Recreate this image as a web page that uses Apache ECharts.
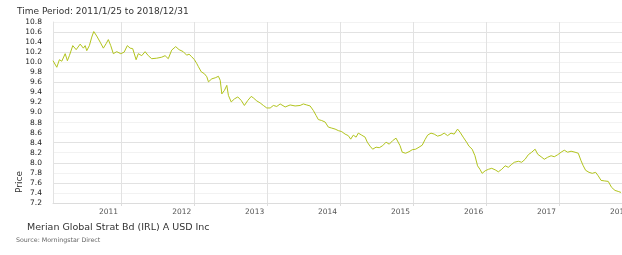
<!DOCTYPE html>
<html style="height: 100%">
	<head>
		<meta charset="utf-8">
	</head>
	<body style="height: 100%; margin: 0; background: #fff; overflow: hidden">
		<!-- the chart runs a little past the right edge of the window, as in the reference -->
		<div id="container" style="width: 632px; height: 255px"></div>
		<script type="text/javascript" src="https://cdn.jsdelivr.net/npm/echarts@6/dist/echarts.min.js"></script>
		<script type="text/javascript">
			// values, roughly every two to three weeks
			var dates = [
				'2011-01-25', '2011-02-13', '2011-02-26', '2011-03-10', '2011-03-27', '2011-04-07', '2011-04-17',
				'2011-05-04', '2011-05-21', '2011-06-10', '2011-06-26', '2011-07-05', '2011-07-13', '2011-07-26',
				'2011-08-07', '2011-08-17', '2011-09-01', '2011-09-18', '2011-10-04', '2011-10-18', '2011-10-29',
				'2011-11-10', '2011-11-23', '2011-12-10', '2011-12-30',
				'2012-01-16', '2012-02-01', '2012-02-15', '2012-02-28', '2012-03-16', '2012-03-27', '2012-04-13',
				'2012-04-30', '2012-05-16', '2012-06-02', '2012-06-27', '2012-07-22', '2012-08-08', '2012-08-24',
				'2012-09-10', '2012-09-30', '2012-10-17', '2012-11-07', '2012-11-24', '2012-12-06', '2012-12-19',
				'2013-01-02', '2013-01-14', '2013-01-22', '2013-02-05', '2013-02-21', '2013-03-05', '2013-03-13',
				'2013-03-30', '2013-04-16', '2013-05-02', '2013-05-11', '2013-05-19', '2013-06-01', '2013-06-13',
				'2013-06-21', '2013-07-05', '2013-07-21', '2013-08-07', '2013-08-24', '2013-09-09', '2013-09-26',
				'2013-10-13', '2013-10-24', '2013-11-10', '2013-11-27', '2013-12-13', '2013-12-30',
				'2014-01-16', '2014-02-01', '2014-02-18', '2014-03-07', '2014-04-01', '2014-04-26', '2014-05-21',
				'2014-06-15', '2014-07-01', '2014-07-18', '2014-08-04', '2014-08-20', '2014-09-03', '2014-09-14',
				'2014-10-01', '2014-10-18', '2014-11-03', '2014-11-20', '2014-12-07', '2014-12-23',
				'2015-01-09', '2015-01-26', '2015-02-11', '2015-02-23', '2015-03-08', '2015-03-22', '2015-04-02',
				'2015-04-19', '2015-05-06', '2015-05-17', '2015-05-31', '2015-06-13', '2015-06-30', '2015-07-16',
				'2015-08-02', '2015-08-19', '2015-09-04', '2015-09-21', '2015-10-08', '2015-10-16', '2015-10-28',
				'2015-11-08', '2015-11-25', '2015-12-12', '2015-12-28',
				'2016-01-14', '2016-01-31', '2016-02-16', '2016-03-01', '2016-03-14', '2016-03-31', '2016-04-16',
				'2016-05-03', '2016-05-20', '2016-06-05', '2016-06-22', '2016-07-09', '2016-07-25', '2016-08-11',
				'2016-08-23', '2016-09-08', '2016-09-25', '2016-10-07', '2016-10-23', '2016-11-06', '2016-11-19',
				'2016-12-01', '2016-12-12', '2016-12-27',
				'2017-01-12', '2017-01-29', '2017-02-15', '2017-03-03', '2017-03-20', '2017-04-06', '2017-04-22',
				'2017-05-09', '2017-05-22', '2017-06-11', '2017-06-28', '2017-07-15', '2017-07-31', '2017-08-17',
				'2017-09-03', '2017-09-16', '2017-10-03', '2017-10-19', '2017-11-05', '2017-11-22', '2017-12-08',
				'2017-12-25',
				'2018-01-11', '2018-01-27', '2018-02-13', '2018-03-02', '2018-03-22', '2018-04-07', '2018-04-21',
				'2018-05-02', '2018-05-14', '2018-05-31', '2018-06-16', '2018-07-03', '2018-07-16', '2018-07-30',
				'2018-08-15', '2018-09-04', '2018-09-21', '2018-10-08', '2018-10-24', '2018-11-07'
			];
			var prices = [
				10.03, 9.90, 10.05, 10.02, 10.17, 10.03, 10.13,
				10.33, 10.25, 10.36, 10.28, 10.33, 10.23, 10.33,
				10.50, 10.61, 10.52, 10.40, 10.28, 10.37, 10.45,
				10.33, 10.17, 10.21, 10.17,
				10.20, 10.33, 10.28, 10.27, 10.05, 10.17, 10.13,
				10.21, 10.13, 10.07, 10.08, 10.10, 10.13, 10.07,
				10.24, 10.31, 10.25, 10.21, 10.14, 10.16, 10.11,
				10.05, 9.97, 9.91, 9.81, 9.77, 9.71, 9.61,
				9.67, 9.69, 9.72, 9.64, 9.37, 9.44, 9.54,
				9.34, 9.21, 9.27, 9.31, 9.24, 9.14, 9.24,
				9.32, 9.29, 9.23, 9.19, 9.14, 9.09,
				9.09, 9.14, 9.12, 9.17, 9.11, 9.15, 9.13,
				9.14, 9.17, 9.15, 9.13, 9.04, 8.94, 8.86,
				8.84, 8.81, 8.71, 8.69, 8.67, 8.64,
				8.62, 8.57, 8.54, 8.47, 8.55, 8.51, 8.59,
				8.55, 8.51, 8.41, 8.33, 8.27, 8.31, 8.30,
				8.34, 8.41, 8.37, 8.44, 8.49, 8.47, 8.34,
				8.21, 8.19, 8.22, 8.26,
				8.27, 8.31, 8.35, 8.46, 8.55, 8.59, 8.57,
				8.53, 8.55, 8.59, 8.54, 8.59, 8.57, 8.67,
				8.61, 8.51, 8.41, 8.33, 8.27, 8.14, 7.94,
				7.87, 7.79, 7.84,
				7.87, 7.89, 7.86, 7.82, 7.87, 7.94, 7.91,
				7.97, 8.01, 8.03, 8.01, 8.07, 8.16, 8.21,
				8.27, 8.17, 8.12, 8.07, 8.11, 8.14, 8.12,
				8.16,
				8.21, 8.25, 8.21, 8.23, 8.21, 8.19, 8.04,
				7.94, 7.85, 7.81, 7.79, 7.81, 7.74, 7.65,
				7.64, 7.63, 7.51, 7.45, 7.43, 7.41
			];
			var seriesName = 'Merian Global Strat Bd (IRL) A USD Inc';
			var periodText = 'Time Period: 2011/1/25 to 2018/12/31';
			var sourceText = 'Source: Morningstar Direct';
			var yName = 'Price';

			var FONT = 'DejaVu Sans';
			var YEAR = 365 * 24 * 3600 * 1000;

			// the reference shows some grid lines stronger than others
			var gridColors = ['#dedede', '#f2f2f2', '#e2e2e2', '#f2f2f2', '#e2e2e2', '#f2f2f2', '#e2e2e2',
				'#f2f2f2', '#f2f2f2', '#e2e2e2', '#f2f2f2', '#f2f2f2', '#e2e2e2', '#ececec', '#f2f2f2',
				'#e2e2e2', '#f2f2f2', '#e2e2e2', '#f2f2f2'];

			var dom = document.getElementById('container');
			var myChart = echarts.init(dom, null, { renderer: 'canvas' });

			var seriesData = dates.map(function (d, i) {
				return [d, prices[i]];
			});

			var option = {
				animation: false,
				backgroundColor: '#fff',
				title: {
					text: periodText,
					left: 12,
					top: 2,
					textStyle: { fontFamily: FONT, fontSize: 9, fontWeight: 'normal', color: '#333' }
				},
				grid: {
					left: 53,
					right: 0,
					top: 22,
					bottom: 52
				},
				xAxis: {
					type: 'time',
					min: '2011-01-25',
					max: '2019-01-01',
					minInterval: YEAR,
					maxInterval: YEAR,
					axisLine: { show: true, lineStyle: { color: '#dcdcdc' } },
					axisTick: { show: true, length: 3, lineStyle: { color: '#dcdcdc' } },
					splitLine: { show: true, lineStyle: { color: '#e2e2e2', width: 1 } },
					axisLabel: {
						showMinLabel: false,
						showMaxLabel: true,
						hideOverlap: false,
						align: 'right',
						padding: [0, 3, 0, 0],
						margin: 5,
						fontFamily: FONT,
						fontSize: 7.5,
						color: '#555',
						formatter: function (value) {
							return String(new Date(value).getFullYear() - 1);
						}
					}
				},
				yAxis: {
					type: 'value',
					min: 7.2,
					max: 10.8,
					interval: 0.2,
					axisLine: { show: true, lineStyle: { color: '#e2e2e2' } },
					axisTick: { show: false },
					splitLine: { show: true, lineStyle: { color: gridColors, width: 1 } },
					axisLabel: {
						margin: 11,
						fontFamily: FONT,
						fontSize: 7.5,
						color: '#222',
						formatter: function (v) {
							return v.toFixed(1);
						}
					}
				},
				graphic: [
					{
						type: 'text',
						x: 20,
						y: 182,
						rotation: Math.PI / 2,
						style: {
							text: yName,
							font: '9px "DejaVu Sans"',
							fill: '#333',
							align: 'center',
							verticalAlign: 'middle'
						}
					},
					{
						type: 'text',
						left: 27,
						top: 223,
						style: { text: seriesName, font: '9.5px "DejaVu Sans"', fill: '#333' }
					},
					{
						type: 'text',
						left: 16,
						top: 237,
						style: { text: sourceText, font: '6.3px "DejaVu Sans"', fill: '#666' }
					}
				],
				series: [
					{
						name: seriesName,
						type: 'line',
						data: seriesData,
						showSymbol: false,
						lineStyle: { color: '#b2c41e', width: 1 },
						itemStyle: { color: '#b2c41e' }
					}
				]
			};

			myChart.setOption(option);
		</script>
	</body>
</html>
